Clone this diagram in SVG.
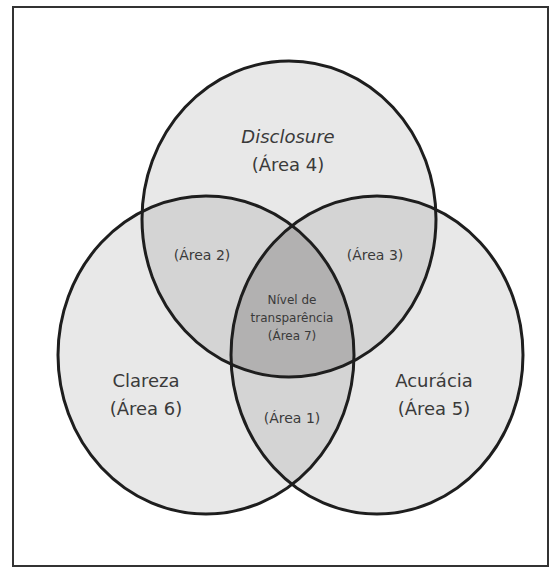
<svg xmlns="http://www.w3.org/2000/svg" width="560" height="568" viewBox="0 0 560 568">
<style>
.lbl{font-family:"DejaVu Sans","Liberation Sans",sans-serif;fill:#3a3a3a;text-anchor:middle}
.big{font-size:18px}
.mid{font-size:14px}
.sm{font-size:12px}
.ring{fill:none;stroke:#1e1e1e;stroke-width:3}
</style>
<defs>
<ellipse id="eT" cx="289" cy="219" rx="147" ry="158"/>
<ellipse id="eL" cx="206" cy="355" rx="148" ry="159"/>
<ellipse id="eR" cx="377" cy="355" rx="146" ry="159"/>
<clipPath id="cT"><use href="#eT"/></clipPath>
<clipPath id="cL"><use href="#eL"/></clipPath>
<clipPath id="cR"><use href="#eR"/></clipPath>
</defs>
<rect x="13" y="7" width="535" height="559" fill="#fff" stroke="#333" stroke-width="2"/>
<g id="fills">
<use href="#eT" fill="#e8e8e8"/>
<use href="#eL" fill="#e8e8e8"/>
<use href="#eR" fill="#e8e8e8"/>
<g clip-path="url(#cT)"><use href="#eL" fill="#d4d4d4"/><use href="#eR" fill="#d4d4d4"/></g>
<g clip-path="url(#cL)"><use href="#eR" fill="#d4d4d4"/></g>
<g clip-path="url(#cL)"><g clip-path="url(#cR)"><use href="#eT" fill="#b2b1b1"/></g></g>
</g>
<g id="disclosure"><use href="#eT" class="ring"/>
<text class="lbl big" x="288" y="143" font-style="italic">Disclosure</text>
<text class="lbl big" x="288" y="171">(Área 4)</text></g>
<g id="clareza"><use href="#eL" class="ring"/>
<text class="lbl big" x="146" y="387">Clareza</text>
<text class="lbl big" x="146" y="415">(Área 6)</text></g>
<g id="acuracia"><use href="#eR" class="ring"/>
<text class="lbl big" x="434" y="387">Acurácia</text>
<text class="lbl big" x="434" y="415">(Área 5)</text></g>
<g id="area2"><text class="lbl mid" x="202" y="260">(Área 2)</text></g>
<g id="area3"><text class="lbl mid" x="375" y="260">(Área 3)</text></g>
<g id="area1"><text class="lbl mid" x="292" y="423">(Área 1)</text></g>
<g id="area7">
<text class="lbl sm" x="292" y="304">Nível de</text>
<text class="lbl sm" x="292" y="322">transparência</text>
<text class="lbl sm" x="292" y="340">(Área 7)</text></g>
<g id="connectors"/>
</svg>
